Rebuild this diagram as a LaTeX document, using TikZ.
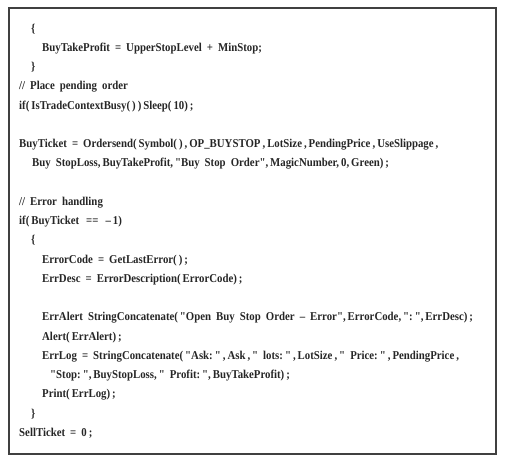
\documentclass[tikz,border=0pt]{standalone}
\usepackage{fontspec}
\usepackage{tikz}

\newfontfamily\listingfont{Liberation Serif}[FakeStretch=0.9]
\newcommand{\listingstyle}{\listingfont\bfseries\fontsize{12}{14}\selectfont\spaceskip=0.42em\relax}
\newcommand{\cmsep}{\,,\,}
\newcommand{\cmtight}{,\,}

\begin{document}
\begin{tikzpicture}[x=1pt, y={(0,-1pt)},
	codeline/.style={anchor=base west, inner sep=0pt, text=black!85, font=\listingstyle}]
	
	\useasboundingbox (0, 0) rectangle (508, 464);
	\draw[line width=1.2pt, black!75] (9, 8) rectangle (496, 454);
	
	\node[codeline] (open1)   at (31, 32)     {\{};
	\node[codeline] (takeprofit) at (42, 51.25)  {BuyTakeProfit = UpperStopLevel + MinStop;};
	\node[codeline] (close1)  at (31, 70.5)   {\}};
	\node[codeline] (cmtplace) at (19, 89.75) {// Place pending order};
	\node[codeline] (busy)    at (19, 109)    {if(\,IsTradeContextBusy(\,)\,)\,Sleep(\,10)\,;};
	
	\node[codeline] (ticket)  at (19, 147.5)  {BuyTicket = Ordersend(\,Symbol(\,)\cmsep OP\_BUYSTOP\cmsep LotSize\cmsep PendingPrice\cmsep UseSlippage\,,};
	\node[codeline] (ticket2) at (32, 166.75) {Buy StopLoss\cmtight BuyTakeProfit\cmtight"Buy Stop Order"\cmtight MagicNumber\cmtight 0\cmtight Green)\,;};
	
	\node[codeline] (cmterr)  at (19, 205.25) {// Error handling};
	\node[codeline] (iferr)   at (19, 224.5)  {if(\,BuyTicket\hspace{7pt}==\hspace{7pt}\textendash\,1)};
	\node[codeline] (open2)   at (31, 243.75) {\{};
	\node[codeline] (errcode) at (42, 263)    {ErrorCode = GetLastError(\,)\,;};
	\node[codeline] (errdesc) at (42, 282.25) {ErrDesc = ErrorDescription(\,ErrorCode)\,;};
	
	\node[codeline] (erralert) at (42, 320.75) {ErrAlert StringConcatenate(\,"Open Buy Stop Order \textendash{} Error"\cmtight ErrorCode\cmtight":\,"\cmtight ErrDesc)\,;};
	\node[codeline] (alert)   at (42, 340)    {Alert(\,ErrAlert)\,;};
	\node[codeline] (errlog)  at (42, 359.25) {ErrLog = StringConcatenate(\,"Ask:\,"\cmsep Ask\cmsep" lots:\,"\cmsep LotSize\cmsep" Price:\,"\cmsep PendingPrice\,,};
	\node[codeline] (errlog2) at (50, 378.5)  {"Stop:\,"\cmtight BuyStopLoss\cmtight" Profit:\,"\cmtight BuyTakeProfit)\,;};
	\node[codeline] (print)   at (42, 397.75) {Print(\,ErrLog)\,;};
	\node[codeline] (close2)  at (31, 417)    {\}};
	\node[codeline] (sell)    at (19, 436.25) {SellTicket = 0\,;};

\end{tikzpicture}
\end{document}
